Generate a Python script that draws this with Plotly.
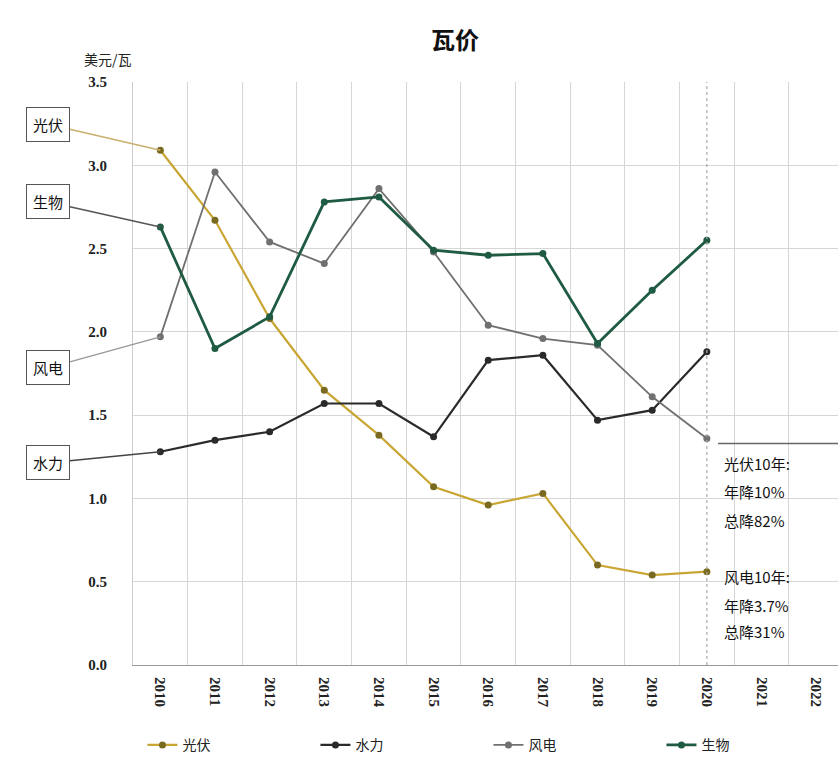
import plotly.graph_objects as go

years = [str(y) for y in range(2010, 2023)]
data_years = [str(y) for y in range(2010, 2021)]
solar = [3.09, 2.67, 2.08, 1.65, 1.38, 1.07, 0.96, 1.03, 0.60, 0.54, 0.56]
hydro = [1.28, 1.35, 1.40, 1.57, 1.57, 1.37, 1.83, 1.86, 1.47, 1.53, 1.88]
wind = [1.97, 2.96, 2.54, 2.41, 2.86, 2.48, 2.04, 1.96, 1.92, 1.61, 1.36]
bio = [2.63, 1.90, 2.09, 2.78, 2.81, 2.49, 2.46, 2.47, 1.93, 2.25, 2.55]
names = ["光伏", "水力", "风电", "生物"]
colors = ["#c9a634", "#2a2a2a", "#707070", "#1f5a42"]
series = [solar, hydro, wind, bio]
widths = [2.2, 2.2, 1.8, 2.8]
note_lines = ["光伏10年:", "年降10%", "总降82%", "风电10年:", "年降3.7%", "总降31%"]
note_y = [1.21, 1.04, 0.87, 0.53, 0.36, 0.20]

CJK = "Noto Sans CJK SC"

fig = go.Figure()
for nm, vals, c, w in zip(names, series, colors, widths):
    fig.add_trace(go.Scatter(
        x=data_years, y=vals, mode="lines+markers", name=nm,
        line=dict(color=c, width=w),
        marker=dict(color=c if nm != "光伏" else "#7a6a20", size=7),
    ))

# left label boxes with connector lines to 2010 points (index 0 on category axis)
label_pos = {"光伏": (solar[0], -112, -26), "生物": (bio[0], -112, -25),
             "风电": (wind[0], -112, 31), "水力": (hydro[0], -112, 11)}
label_col = {"光伏": "#c9b070", "生物": "#555555", "风电": "#999999", "水力": "#444444"}
for nm, (yv, ax, ay) in label_pos.items():
    fig.add_annotation(x=0, y=yv, xref="x", yref="y", text=nm,
                       showarrow=True, arrowhead=0, arrowwidth=1.5,
                       arrowcolor=label_col[nm], ax=ax, ay=ay, axref="pixel", ayref="pixel",
                       bordercolor="#555555", borderwidth=1, borderpad=6,
                       bgcolor="white",
                       font=dict(family=CJK, size=15, color="#111111"))

# right note text
for t, yv in zip(note_lines, note_y):
    fig.add_annotation(x=0.835, xref="paper", y=yv, yref="y", xanchor="left",
                       yanchor="middle", showarrow=False, text=t,
                       font=dict(family=CJK, size=15, color="#111111"))
fig.add_shape(type="line", xref="paper", yref="y", x0=0.83, x1=1.0,
              y0=1.33, y1=1.33, line=dict(color="#666666", width=1.5))
fig.add_shape(type="line", xref="x", yref="paper", x0=10, x1=10,
              y0=0, y1=1, line=dict(color="#aaaaaa", width=1.2, dash="dot"))

# unit label
fig.add_annotation(xref="x domain", yref="y domain", x=-0.035, y=1.06,
                   xanchor="center", text="美元/瓦", showarrow=False,
                   font=dict(family=CJK, size=14, color="#222"))

fig.update_layout(
    width=838, height=759,
    margin=dict(l=133, r=0, t=82, b=94, autoexpand=False),
    paper_bgcolor="white", plot_bgcolor="white",
    title=dict(text="<b>瓦价</b>", x=0.543, xanchor="center", y=0.947,
               yanchor="middle", font=dict(family=CJK, size=24, color="#111")),
    legend=dict(orientation="h", x=0.17, xref="container", y=0.018, yref="container",
                xanchor="left", yanchor="middle", entrywidth=128,
                font=dict(family=CJK, size=14, color="#222")),
    font=dict(family=CJK),
)
fig.update_xaxes(type="category", categoryorder="array", categoryarray=years,
                 tickvals=years, range=[-0.5, 12.4], tickson="boundaries",
                 showgrid=True, gridcolor="#d6d6d6", gridwidth=1,
                 tickangle=90, ticks="", ticklabelstandoff=8,
                 tickfont=dict(family="Liberation Serif", size=15, color="#222", weight="bold"),
                 showline=True, linecolor="#999999", zeroline=False)
fig.update_yaxes(range=[0, 3.5], dtick=0.5, tickformat=".1f",
                 showgrid=True, gridcolor="#d6d6d6", gridwidth=1,
                 ticks="", ticklabelstandoff=22, zeroline=False,
                 tickfont=dict(family="Liberation Serif", size=15, color="#222", weight="bold"),
                 showline=True, linecolor="#cccccc")

fig.write_html("out.html")
